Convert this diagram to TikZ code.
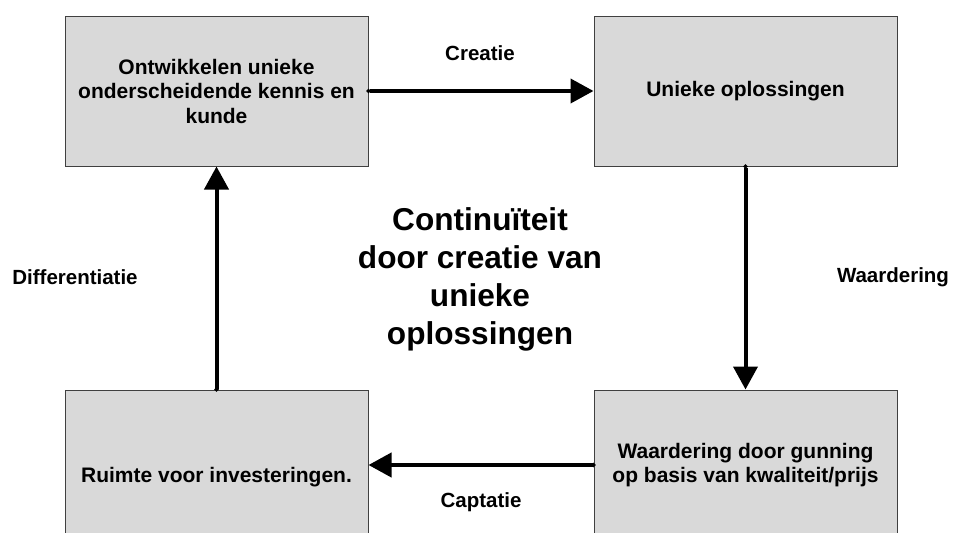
\documentclass[tikz,border=0pt]{standalone}
\usepackage{fontspec}
\setmainfont{Liberation Sans}
\usetikzlibrary{arrows.meta}
\definecolor{boxgray}{HTML}{D9D9D9}
\begin{document}
\begin{tikzpicture}[x=1pt,y=-1pt,
  stepbox/.style={draw=black!75, line width=1pt, fill=boxgray,
    minimum width=303pt, minimum height=150pt, inner sep=0pt,
    align=center, font=\bfseries\fontsize{21}{24.5}\selectfont},
  boxtext/.style={align=center, inner sep=0pt, font=\bfseries\fontsize{21}{24.5}\selectfont},
  flowlabel/.style={inner sep=0pt, font=\bfseries\fontsize{20.5}{24}\selectfont},
  flow/.style={line width=4pt, {Circle[length=4pt]}-{Triangle[length=23pt,width=24pt]}, shorten <=-2pt},
  centre/.style={align=center, inner sep=0pt, font=\bfseries\fontsize{31.6}{38}\selectfont}]
  \clip (0,0) rectangle (954,533);
  \fill[white] (0,0) rectangle (954,533);

  % the four stages of the cycle
  \node[stepbox] (b1) at (216.5,91) {Ontwikkelen unieke\\onderscheidende kennis en\\kunde};
  \node[stepbox] (b2) at (745.5,91) {Unieke oplossingen};
  \node[stepbox] (b4) at (745.5,465) {Waardering door gunning\\op basis van kwaliteit/prijs};
  \node[stepbox] (b3) at (216.5,465) {};
  \node[boxtext] (t3) at (216.5,477) {Ruimte voor investeringen.};

  % connectors
  \draw[flow] (b1.east) -- (b2.west);
  \draw[flow] (b2.south) -- (b4.north);
  \draw[flow] (b4.west) -- (b3.east);
  \draw[flow] (b3.north) -- (b1.south);

  % connector labels
  \node[flowlabel] (lc) at (480,53) {Creatie};
  \node[flowlabel] (lw) at (893,277) {Waardering};
  \node[flowlabel] (lp) at (481,502) {Captatie};
  \node[flowlabel] (ld) at (75,277) {Differentiatie};

  % centre text
  \node[centre] (mid) at (480,279) {Continuïteit\\door creatie van\\unieke\\oplossingen};
\end{tikzpicture}
\end{document}
